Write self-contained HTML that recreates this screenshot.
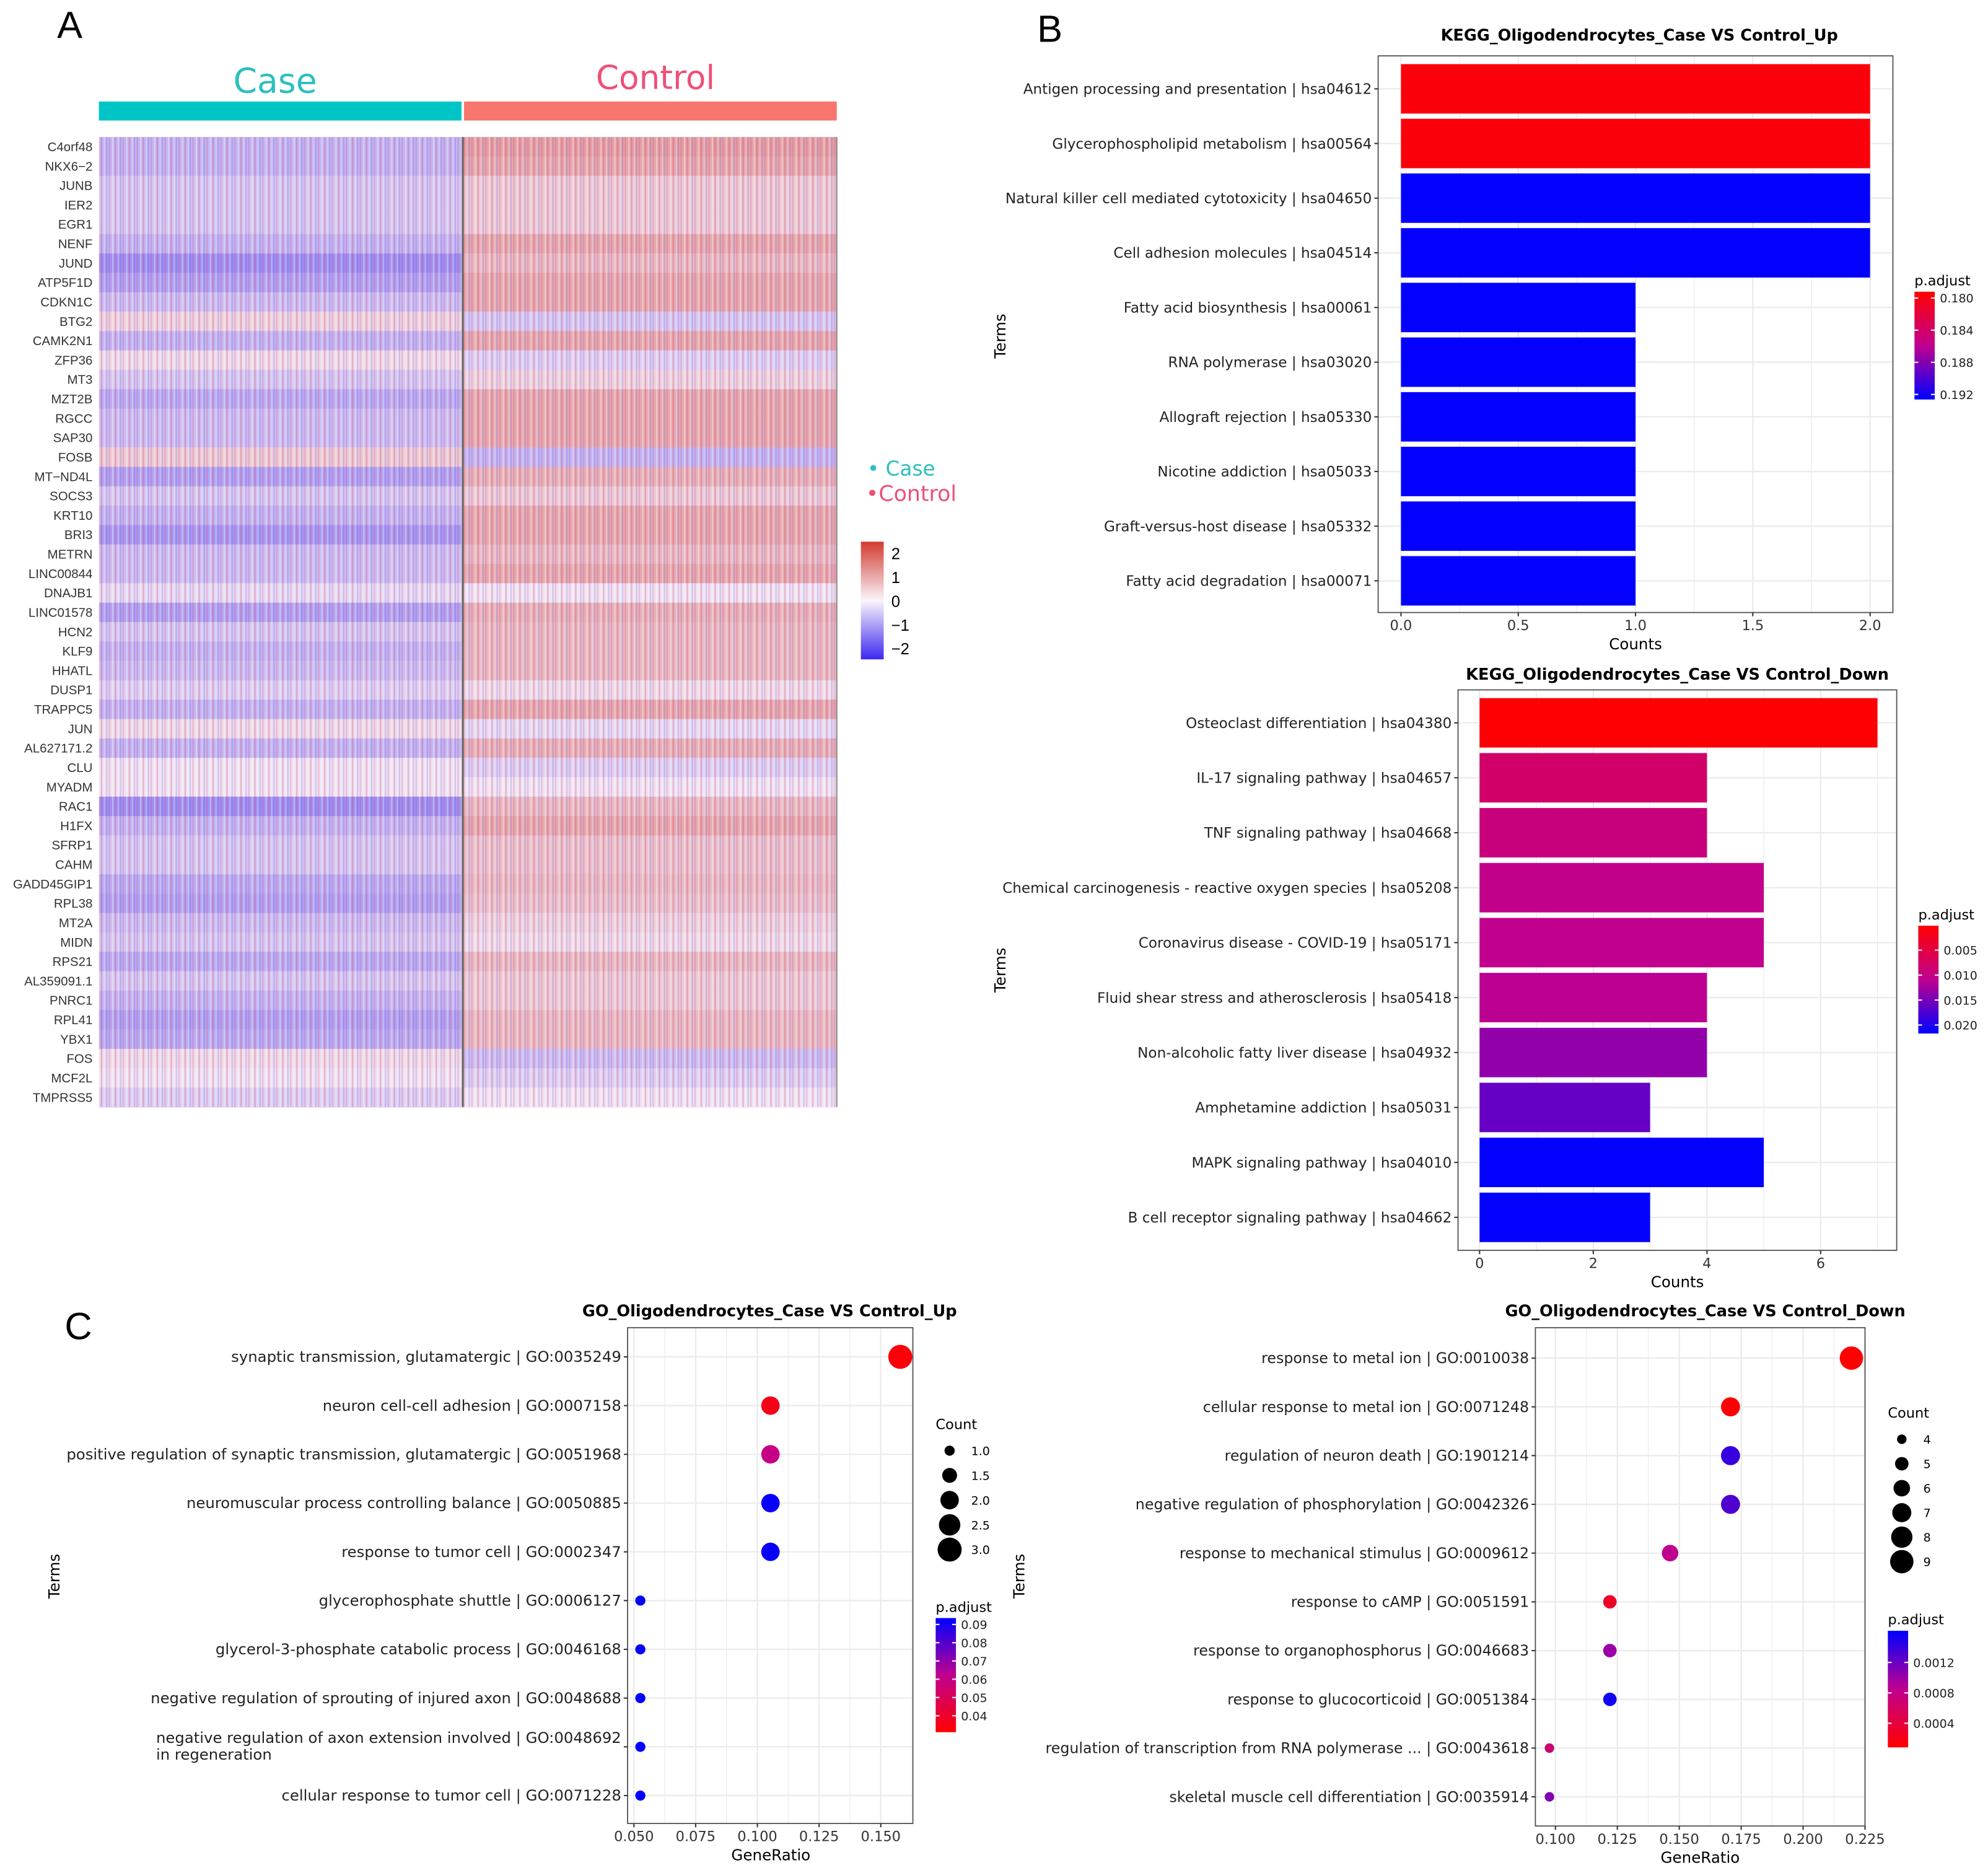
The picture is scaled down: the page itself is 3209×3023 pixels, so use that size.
<!DOCTYPE html>
<html><head><meta charset="utf-8"><style>
html,body{margin:0;padding:0;background:#fff}
svg{display:block}
text{font-family:"DejaVu Sans","Liberation Sans",sans-serif}
text.lib{font-family:"Liberation Sans",sans-serif}
</style></head><body>
<svg id="fig" xmlns="http://www.w3.org/2000/svg" width="3209" height="3023" viewBox="0 0 1568 1477">
<defs>
<pattern id="stripes" width="11" height="10" patternUnits="userSpaceOnUse">
<rect x="0.5" y="0" width="1" height="10" fill="#fff" opacity="0.35"/>
<rect x="2.5" y="0" width="1.2" height="10" fill="#c83a5a" opacity="0.28"/>
<rect x="5" y="0" width="0.8" height="10" fill="#fff" opacity="0.3"/>
<rect x="6.6" y="0" width="1" height="10" fill="#5040e0" opacity="0.22"/>
<rect x="8.6" y="0" width="1.3" height="10" fill="#c83a5a" opacity="0.2"/>
</pattern>
<linearGradient id="hmGrad" x1="0" y1="0" x2="0" y2="1">
<stop offset="0" stop-color="#d23a30"/><stop offset="0.5" stop-color="#faf5fa"/><stop offset="1" stop-color="#3c28f0"/>
</linearGradient>
<linearGradient id="rbGrad" x1="0" y1="0" x2="0" y2="1">
<stop offset="0" stop-color="#ff0000"/><stop offset="0.5" stop-color="#c0008f"/><stop offset="1" stop-color="#0000ff"/>
</linearGradient>
<linearGradient id="brGrad" x1="0" y1="0" x2="0" y2="1">
<stop offset="0" stop-color="#0000ff"/><stop offset="0.5" stop-color="#c0008f"/><stop offset="1" stop-color="#ff0000"/>
</linearGradient>
</defs>
</svg>
<script>
// ---------- Heatmap data ----------
const genes = ["C4orf48","NKX6\u22122","JUNB","IER2","EGR1","NENF","JUND","ATP5F1D","CDKN1C","BTG2","CAMK2N1","ZFP36","MT3","MZT2B","RGCC","SAP30","FOSB","MT\u2212ND4L","SOCS3","KRT10","BRI3","METRN","LINC00844","DNAJB1","LINC01578","HCN2","KLF9","HHATL","DUSP1","TRAPPC5","JUN","AL627171.2","CLU","MYADM","RAC1","H1FX","SFRP1","CAHM","GADD45GIP1","RPL38","MT2A","MIDN","RPS21","AL359091.1","PNRC1","RPL41","YBX1","FOS","MCF2L","TMPRSS5"];
const caseMean = [-0.5,-0.5,-0.3,-0.3,-0.3,-0.5,-0.9,-0.7,-0.4,0.2,-0.5,0.1,-0.3,-0.6,-0.4,-0.4,0.3,-0.7,-0.3,-0.5,-0.8,-0.4,-0.4,-0.1,-0.7,-0.3,-0.5,-0.4,-0.2,-0.5,0.1,-0.5,0.0,0.0,-0.9,-0.5,-0.3,-0.3,-0.6,-0.7,-0.4,-0.3,-0.6,-0.3,-0.5,-0.7,-0.6,0.1,0.0,-0.2];
const controlMean = [0.8,0.7,0.3,0.3,0.3,0.7,0.5,0.7,0.7,-0.3,0.7,-0.2,0.2,0.7,0.7,0.7,-0.5,0.6,0.3,0.7,0.7,0.5,0.7,0.0,0.6,0.5,0.5,0.5,0.1,0.7,-0.1,0.6,-0.2,0.0,0.5,0.7,0.4,0.4,0.5,0.4,0.2,0.1,0.5,0.3,0.3,0.5,0.5,-0.4,-0.2,0.0];
const hmTicks = [2,1,0,-1,-2];
const hmTickLabels = ["2","1","0","\u22121","\u22122"];

// ---------- KEGG up ----------
const keggUpTerms = ["Antigen processing and presentation | hsa04612","Glycerophospholipid metabolism | hsa00564","Natural killer cell mediated cytotoxicity | hsa04650","Cell adhesion molecules | hsa04514","Fatty acid biosynthesis | hsa00061","RNA polymerase | hsa03020","Allograft rejection | hsa05330","Nicotine addiction | hsa05033","Graft-versus-host disease | hsa05332","Fatty acid degradation | hsa00071"];
const keggUpCounts = [2,2,2,2,1,1,1,1,1,1];
const keggUpPadj = [0.1797,0.1797,0.1925,0.1925,0.1925,0.1925,0.1925,0.1925,0.1925,0.1925];
const keggUpXTicks = [0,0.5,1,1.5,2];
const keggUpXTickLabels = ["0.0","0.5","1.0","1.5","2.0"];
const keggUpLegTicks = [0.180,0.184,0.188,0.192];

// ---------- KEGG down ----------
const keggDnTerms = ["Osteoclast differentiation | hsa04380","IL-17 signaling pathway | hsa04657","TNF signaling pathway | hsa04668","Chemical carcinogenesis - reactive oxygen species | hsa05208","Coronavirus disease - COVID-19 | hsa05171","Fluid shear stress and atherosclerosis | hsa05418","Non-alcoholic fatty liver disease | hsa04932","Amphetamine addiction | hsa05031","MAPK signaling pathway | hsa04010","B cell receptor signaling pathway | hsa04662"];
const keggDnCounts = [7,4,4,5,5,4,4,3,5,3];
const keggDnPadj = [0.0004,0.0080,0.0095,0.0105,0.0108,0.0112,0.0135,0.0160,0.0215,0.0215];
const keggDnXTicks = [0,2,4,6];
const keggDnXTickLabels = ["0","2","4","6"];
const keggDnLegTicks = [0.005,0.010,0.015,0.020];

// ---------- GO up ----------
const goUpTerms = ["synaptic transmission, glutamatergic | GO:0035249","neuron cell-cell adhesion | GO:0007158","positive regulation of synaptic transmission, glutamatergic | GO:0051968","neuromuscular process controlling balance | GO:0050885","response to tumor cell | GO:0002347","glycerophosphate shuttle | GO:0006127","glycerol-3-phosphate catabolic process | GO:0046168","negative regulation of sprouting of injured axon | GO:0048688","negative regulation of axon extension involved | GO:0048692","cellular response to tumor cell | GO:0071228"];
const goUpSecondLine = ["","","","","","","","","in regeneration",""];
const goUpRatio = [0.1579,0.1053,0.1053,0.1053,0.1053,0.0526,0.0526,0.0526,0.0526,0.0526];
const goUpCount = [3,2,2,2,2,1,1,1,1,1];
const goUpPadj = [0.033,0.036,0.060,0.092,0.092,0.093,0.093,0.093,0.093,0.093];
const goUpXTicks = [0.05,0.075,0.1,0.125,0.15];
const goUpXTickLabels = ["0.050","0.075","0.100","0.125","0.150"];
const goUpSizeLeg = [1.0,1.5,2.0,2.5,3.0];
const goUpLegTicks = [0.09,0.08,0.07,0.06,0.05,0.04];

// ---------- GO down ----------
const goDnTerms = ["response to metal ion | GO:0010038","cellular response to metal ion | GO:0071248","regulation of neuron death | GO:1901214","negative regulation of phosphorylation | GO:0042326","response to mechanical stimulus | GO:0009612","response to cAMP | GO:0051591","response to organophosphorus | GO:0046683","response to glucocorticoid | GO:0051384","regulation of transcription from RNA polymerase ... | GO:0043618","skeletal muscle cell differentiation | GO:0035914"];
const goDnRatio = [0.2195,0.1707,0.1707,0.1707,0.1463,0.1220,0.1220,0.1220,0.0976,0.0976];
const goDnCount = [9,7,7,7,6,5,5,5,4,4];
const goDnPadj = [0.00005,0.00010,0.00140,0.00130,0.00085,0.00030,0.00100,0.00155,0.00070,0.00110];
const goDnXTicks = [0.1,0.125,0.15,0.175,0.2,0.225];
const goDnXTickLabels = ["0.100","0.125","0.150","0.175","0.200","0.225"];
const goDnSizeLeg = [4,5,6,7,8,9];
const goDnLegTicks = [0.0012,0.0008,0.0004];

// ---------- helpers ----------
const svg = document.getElementById('fig');
const NS = "http://www.w3.org/2000/svg";
function mk(tag, attrs, parent){ const e=document.createElementNS(NS,tag); for(const k in attrs) e.setAttribute(k,attrs[k]); (parent||svg).appendChild(e); return e; }
function txt(s, attrs, parent){ const e=mk('text',attrs,parent); e.textContent=s; return e; }
function lin(d0,d1,r0,r1){ return v => r0 + (v-d0)/(d1-d0)*(r1-r0); }
function mix(a,b,t){ return a.map((v,i)=>Math.round(v+(b[i]-v)*t)); }
function rb(t){ t=Math.max(0,Math.min(1,t)); const R=[255,0,0],M=[192,0,143],B=[0,0,255]; const c = t<0.5?mix(R,M,t*2):mix(M,B,(t-0.5)*2); return `rgb(${c})`; }
function hm(v){ const t=Math.max(-1,Math.min(1,v/2)); const W=[240,228,245]; const c = t>=0?mix(W,[210,58,48],t):mix(W,[60,40,240],-t); return `rgb(${c})`; }

// ---------- Panel letters ----------
let e;
e = txt("A",{x:45,y:30,"font-size":30,"class":"lib"});  
e = txt("B",{x:818,y:33,"font-size":30,"class":"lib"});  
e = txt("C",{x:51,y:1056,"font-size":30,"class":"lib"});  

// ---------- Heatmap ----------
const hmG = mk('g',{});  
const hmTop=108, hmBot=873, xCase0=78, xSplit=365, xCtrl1=660;
const rowY = lin(0,genes.length,hmTop,hmBot);
const rh = (hmBot-hmTop)/genes.length;
e = mk('rect',{x:xCase0,y:80,width:xSplit-xCase0-1,height:15,fill:"#00c5c6"},hmG);  
e = mk('rect',{x:xSplit+1,y:80,width:xCtrl1-xSplit-1,height:15,fill:"#f8766d"},hmG);  
e = txt("Case",{x:217,y:73,"font-size":27,fill:"#2bbfc0","text-anchor":"middle"},hmG);  
e = txt("Control",{x:517,y:70,"font-size":26,fill:"#ef4f78","text-anchor":"middle"},hmG);  
genes.forEach((g,i)=>{
  const y=rowY(i);
  let r = mk('rect',{x:xCase0,y:y,width:xSplit-xCase0,height:rh+0.4,fill:hm(caseMean[i])},hmG);
   
  r = mk('rect',{x:xSplit,y:y,width:xCtrl1-xSplit,height:rh+0.4,fill:hm(controlMean[i])},hmG);
   
  const t = txt(g,{x:73,y:y+rh/2+3.5,"font-size":10,"class":"lib","text-anchor":"end",fill:"#333"},hmG);
   
});
e = mk('rect',{x:xCase0,y:hmTop,width:xCtrl1-xCase0,height:hmBot-hmTop,fill:"url(#stripes)"},hmG);  
e = mk('line',{x1:xSplit,y1:hmTop,x2:xSplit,y2:hmBot,stroke:"#666","stroke-width":1.5},hmG);  
e = mk('line',{x1:xCtrl1,y1:hmTop,x2:xCtrl1,y2:hmBot,stroke:"#888","stroke-width":1},hmG);  
e = txt("\u2022 Case",{x:684,y:375,"font-size":16,fill:"#2bbfc0"},hmG);  
e = txt("\u2022Control",{x:683,y:395,"font-size":17,fill:"#ef4f78"},hmG);  
const hmLegY = lin(0,1,474,455.25);
e = mk('rect',{x:679,y:hmLegY(2.5),width:18,height:hmLegY(-2.45)-hmLegY(2.5),fill:"url(#hmGrad)"},hmG);  
hmTicks.forEach((v,i)=>{ const t=txt(hmTickLabels[i],{x:703,y:hmLegY(v)+4.5,"font-size":12.5,"class":"lib"},hmG);   });

// ---------- generic grid/axes ----------
function frame(g,x0,y0,x1,y1){ const r=mk('rect',{x:x0,y:y0,width:x1-x0,height:y1-y0,fill:"none",stroke:"#555","stroke-width":0.9},g);   }
function vgrid(g,xs,y0,y1,major){ xs.forEach(x=>{ const l=mk('line',{x1:x,y1:y0,x2:x,y2:y1,stroke:"#ebebeb","stroke-width":major?1.1:0.6},g);   }); }
function hgrid(g,ys,x0,x1){ ys.forEach(y=>{ const l=mk('line',{x1:x0,y1:y,x2:x1,y2:y,stroke:"#ebebeb","stroke-width":1.1},g);   }); }
function xaxis(g,ticks,labels,sx,y,title,tx){
  ticks.forEach((v,i)=>{ const x=sx(v); let l=mk('line',{x1:x,y1:y,x2:x,y2:y+3,stroke:"#333"},g);  
    const t=txt(labels[i],{x:x,y:y+14,"font-size":11,"text-anchor":"middle",fill:"#333"},g);   });
  const t=txt(title,{x:tx,y:y+29,"font-size":12,"text-anchor":"middle"},g);  
}
function ylabels(g,terms,sy,x,second,fs){
  terms.forEach((s,i)=>{ const y=sy(i); let l=mk('line',{x1:x-3,y1:y,x2:x,y2:y,stroke:"#333"},g);  
    const dy = (second && second[i]) ? -3 : 4;
    const t=txt(s,{x:x-5,y:y+dy,"font-size":fs,"text-anchor":"end",fill:"#222"},g);  
    if(second && second[i]){ const w=t.getComputedTextLength(); const t2=txt(second[i],{x:x-5-w,y:y+10,"font-size":fs,fill:"#222"},g);   }
  });
}
function ytitle(g,x,y){ const t=txt("Terms",{x:x,y:y,"font-size":12,"text-anchor":"middle",transform:`rotate(-90 ${x} ${y})`},g);   }
function title(g,s,x,y){ const t=txt(s,{x:x,y:y,"font-size":12.5,"font-weight":"bold","text-anchor":"middle"},g);   }
function colorLegend(g,x,y0,y1,grad,sy,ticks,fmt,ttl){
  const t=txt(ttl,{x:x,y:y0-5,"font-size":11},g);  
  const r=mk('rect',{x:x,y:y0,width:16,height:y1-y0,fill:`url(#${grad})`},g);  
  ticks.forEach(v=>{ const y=sy(v); let l=mk('line',{x1:x,y1:y,x2:x+3,y2:y,stroke:"#fff"},g);  
    l=mk('line',{x1:x+13,y1:y,x2:x+16,y2:y,stroke:"#fff"},g);  
    const tl=txt(fmt(v),{x:x+20,y:y+3.5,"font-size":9.3,fill:"#222"},g);   });
}

// ---------- KEGG Up bar chart ----------
(function(){
  const g=mk('g',{});  
  const x0=1087,x1=1493,y0=44,y1=483;
  const sx=lin(0,2,1105,1475), sy=lin(0,9,70,458), bh=39;
  const pLo=0.17921, pHi=0.19263; const sp=lin(pLo,pHi,0,1);
  vgrid(g,[0.25,0.75,1.25,1.75].map(sx),y0,y1,false);
  vgrid(g,keggUpXTicks.map(sx),y0,y1,true);
  hgrid(g,keggUpTerms.map((_,i)=>sy(i)),x0,x1);
  keggUpCounts.forEach((c,i)=>{ const r=mk('rect',{x:sx(0),y:sy(i)-bh/2,width:sx(c)-sx(0),height:bh,fill:rb(sp(keggUpPadj[i]))},g);   });
  frame(g,x0,y0,x1,y1);
  ylabels(g,keggUpTerms,sy,x0,null,11.3);
  xaxis(g,keggUpXTicks,keggUpXTickLabels,sx,y1,"Counts",1290);
  ytitle(g,793,265);
  title(g,"KEGG_Oligodendrocytes_Case VS Control_Up",1293,32);
  const ly=lin(pLo,pHi,230,315);
  colorLegend(g,1510,230,315,"rbGrad",ly,keggUpLegTicks,v=>v.toFixed(3),"p.adjust");
})();

// ---------- KEGG Down bar chart ----------
(function(){
  const g=mk('g',{});  
  const x0=1150,x1=1496,y0=544,y1=986;
  const sx=lin(0,6,1167,1436), sy=lin(0,9,570,960), bh=39;
  const pLo=0.0001, pHi=0.0217; const sp=lin(pLo,pHi,0,1);
  vgrid(g,[1,3,5,7].map(sx),y0,y1,false);
  vgrid(g,keggDnXTicks.map(sx),y0,y1,true);
  hgrid(g,keggDnTerms.map((_,i)=>sy(i)),x0,x1);
  keggDnCounts.forEach((c,i)=>{ const r=mk('rect',{x:sx(0),y:sy(i)-bh/2,width:sx(c)-sx(0),height:bh,fill:rb(sp(keggDnPadj[i]))},g);   });
  frame(g,x0,y0,x1,y1);
  ylabels(g,keggDnTerms,sy,x0,null,11.3);
  xaxis(g,keggDnXTicks,keggDnXTickLabels,sx,y1,"Counts",1323);
  ytitle(g,793,765);
  title(g,"KEGG_Oligodendrocytes_Case VS Control_Down",1323,536);
  const ly=lin(pLo,pHi,730,815);
  colorLegend(g,1513,730,815,"rbGrad",ly,keggDnLegTicks,v=>v.toFixed(3),"p.adjust");
})();

// ---------- dot plots ----------
function dotPlot(cfg){
  const g=mk('g',{});  
  const {x0,x1,y0,y1,sx,sy,sr,sp}=cfg;
  vgrid(g,cfg.minor.map(sx),y0,y1,false);
  vgrid(g,cfg.xt.map(sx),y0,y1,true);
  hgrid(g,cfg.terms.map((_,i)=>sy(i)),x0,x1);
  cfg.ratio.forEach((v,i)=>{ const c=mk('circle',{cx:sx(v),cy:sy(i),r:sr(cfg.count[i]),fill:rb(sp(cfg.padj[i]))},g);   });
  frame(g,x0,y0,x1,y1);
  ylabels(g,cfg.terms,sy,x0,cfg.second,cfg.fs);
  xaxis(g,cfg.xt,cfg.xtl,sx,y1,"GeneRatio",cfg.xtitleX);
  ytitle(g,cfg.ytX,1243);
  title(g,cfg.title,cfg.titleX,1038);
  let t=txt("Count",{x:cfg.legX,y:cfg.countY,"font-size":11},g);  
  cfg.sizeLeg.forEach((v,i)=>{ const y=cfg.countY+cfg.legOff+i*cfg.legStep; const c=mk('circle',{cx:cfg.legX+11,cy:y,r:sr(v),fill:"#000"},g);  
    const tl=txt(cfg.sizeFmt(v),{x:cfg.legX+28,y:y+3.5,"font-size":9.3},g);   });
  colorLegend(g,cfg.legX,cfg.cb0,cfg.cb1,"brGrad",lin(cfg.pHi,cfg.pLo,cfg.cb0,cfg.cb1),cfg.legTicks,cfg.fmt,"p.adjust");
}
dotPlot({name:"go-up-dot-plot",terms:goUpTerms,second:goUpSecondLine,ratio:goUpRatio,count:goUpCount,padj:goUpPadj,fs:11.9,
  x0:495,x1:720,y0:1047,y1:1438,sx:lin(0.05,0.15,500,694.7),sy:lin(0,9,1070,1416),
  sr:v=>Math.sqrt(16+(v-1)/2*(90-16)),pHi:0.0935,pLo:0.031,sp:lin(0.031,0.0935,0,1),
  xt:goUpXTicks,xtl:goUpXTickLabels,minor:[0.0625,0.0875,0.1125,0.1375],xtitleX:608,ytX:47,
  title:"GO_Oligodendrocytes_Case VS Control_Up",titleX:607,legX:738,countY:1127,legOff:17,legStep:19.5,sizeLeg:goUpSizeLeg,sizeFmt:v=>v.toFixed(1),
  cb0:1276,cb1:1366,legTicks:goUpLegTicks,fmt:v=>v.toFixed(2)});
dotPlot({name:"go-down-dot-plot",terms:goDnTerms,second:null,ratio:goDnRatio,count:goDnCount,padj:goDnPadj,fs:11.6,
  x0:1211,x1:1471,y0:1047,y1:1440,sx:lin(0.1,0.225,1226.8,1471),sy:lin(0,9,1071,1417),
  sr:v=>Math.sqrt(14+(v-4)/5*(85-14)),pHi:0.001617,pLo:0.0000833,sp:lin(0.0000833,0.001617,0,1),
  xt:goDnXTicks,xtl:goDnXTickLabels,minor:[0.1125,0.1375,0.1625,0.1875,0.2125],xtitleX:1341,ytX:808,
  title:"GO_Oligodendrocytes_Case VS Control_Down",titleX:1345,legX:1489,countY:1118,legOff:17,legStep:19.3,sizeLeg:goDnSizeLeg,sizeFmt:v=>String(v),
  cb0:1286,cb1:1378,legTicks:goDnLegTicks,fmt:v=>v.toFixed(4)});
</script>
</body></html>
